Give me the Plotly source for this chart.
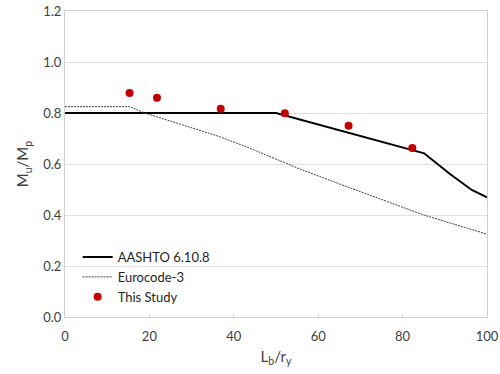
import plotly.graph_objects as go

# AASHTO 6.10.8 curve
aashto_x = [0, 50, 85.1, 91.3, 96.4, 100]
aashto_y = [0.80, 0.80, 0.642, 0.560, 0.498, 0.469]

# Eurocode-3 curve
euro_x = [0, 15.3, 18.9, 36.7, 43.8, 55.7, 66.8, 85.0, 100]
euro_y = [0.825, 0.825, 0.800, 0.707, 0.662, 0.580, 0.511, 0.400, 0.325]

# This Study points
study_x = [15.3, 21.8, 36.9, 52.1, 67.2, 82.3]
study_y = [0.878, 0.860, 0.817, 0.799, 0.750, 0.663]

x_ticks = [0, 20, 40, 60, 80, 100]
y_ticks = [0.0, 0.2, 0.4, 0.6, 0.8, 1.0, 1.2]

FONT = "Lato"

fig = go.Figure()
fig.add_trace(go.Scatter(x=aashto_x, y=aashto_y, mode="lines", name="AASHTO 6.10.8",
                         line=dict(color="black", width=2)))
fig.add_trace(go.Scatter(x=euro_x, y=euro_y, mode="lines", name="Eurocode-3",
                         line=dict(color="#404040", width=1, dash="2px,1px")))
fig.add_trace(go.Scatter(x=study_x, y=study_y, mode="markers", name="This Study",
                         marker=dict(color="#C00000", size=8)))

fig.update_layout(
    width=500, height=374,
    margin=dict(l=65, r=13, t=11, b=57, autoexpand=False),
    paper_bgcolor="white", plot_bgcolor="white",
    font=dict(family=FONT, size=13, color="#404040"),
    showlegend=True,
    legend=dict(x=0.03, y=0.245, xanchor="left", yanchor="top",
                bgcolor="rgba(0,0,0,0)", font=dict(size=13, color="#262626"),
                tracegroupgap=0, itemwidth=30),
    xaxis=dict(range=[0, 100], tickvals=x_ticks, showgrid=False,
               showline=True, linecolor="#d0d0d0", linewidth=1, mirror=True,
               ticks="inside", ticklen=3, tickcolor="#d0d0d0",
               ticklabelstandoff=7,
               zeroline=False, tickfont=dict(size=13, color="#404040"),
               title=dict(text="L<sub>b</sub>/r<sub>y</sub>", font=dict(size=15, color="#404040"), standoff=8)),
    yaxis=dict(range=[0, 1.2], tickvals=y_ticks, tickformat=".1f",
               showgrid=True, gridcolor="#e0e0e0", gridwidth=1,
               showline=True, linecolor="#d0d0d0", linewidth=1, mirror=True,
               zeroline=False, ticks="", tickfont=dict(size=13, color="#404040"),
               title=dict(text="M<sub>u</sub>/M<sub>p</sub>", font=dict(size=15, color="#404040"), standoff=10)),
)

fig.write_html("out.html", config={"displayModeBar": False},
               post_script="document.body.style.margin='0';document.body.style.overflow='hidden';")
